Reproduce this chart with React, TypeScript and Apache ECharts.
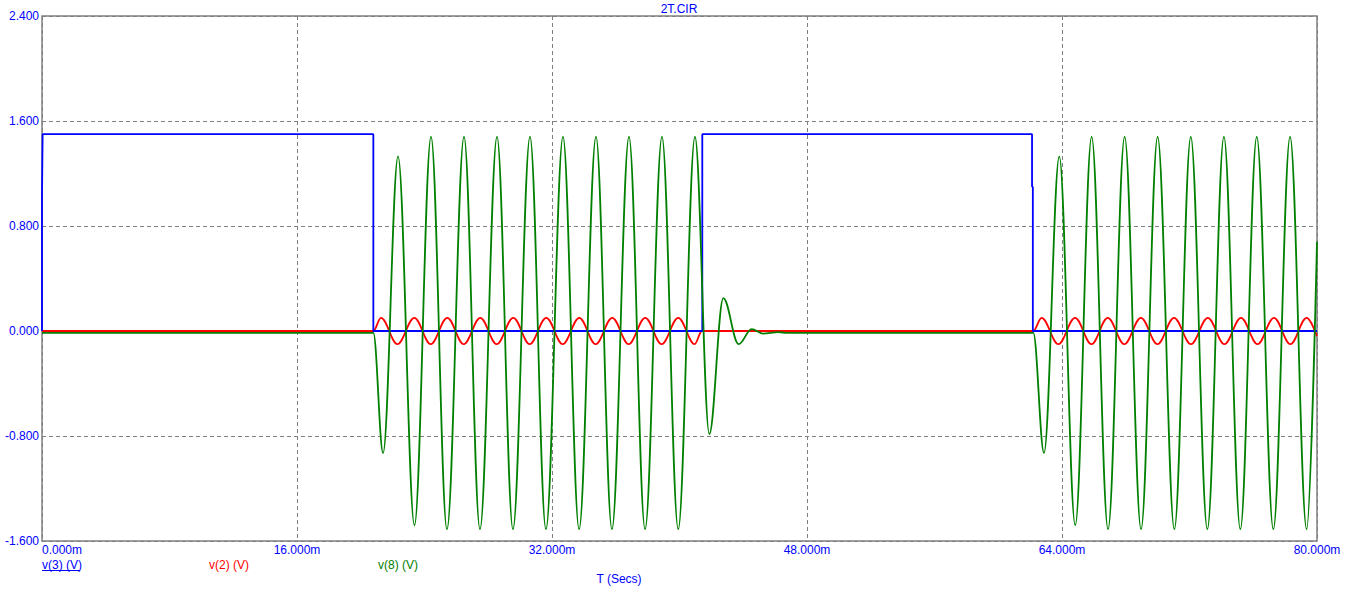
import React, { useEffect, useRef } from 'react';
import * as echarts from 'echarts';

const TITLE = '2T.CIR';
const X_AXIS_NAME = 'T (Secs)';
const SERIES_NAMES = ['v(3) (V)', 'v(2) (V)', 'v(8) (V)'];
const X_MIN = 0;
const X_MAX = 80;
const X_STEP = 16;
const Y_MIN = -1.6;
const Y_MAX = 2.4;
const Y_STEP = 0.8;

// v(3): square pulse (time in ms, value in V)
const v3Blue: [number, number][] = [
  [0, 0], [0, 1.05], [0.04, 1.5], [20.79, 1.5], [20.79, 0],
  [41.43, 0], [41.43, 1.5],
  [62.12, 1.5], [62.12, 1.1], [62.17, 1.1], [62.17, 0], [80, 0],
];

// v(2): driving tone, extrema
const v2Red: [number, number][] = [
  [0, 0], [20.79, 0],
  [21.27, 0.1], [22.30, -0.1], [23.36, 0.1], [24.39, -0.1], [25.43, 0.1], [26.46, -0.1],
  [27.50, 0.1], [28.53, -0.1], [29.57, 0.1], [30.60, -0.1], [31.64, 0.1], [32.67, -0.1],
  [33.71, 0.1], [34.74, -0.1], [35.78, 0.1], [36.81, -0.1], [37.85, 0.1], [38.88, -0.1],
  [39.92, 0.1], [40.95, -0.1], [41.41, 0],
  [62.2, 0],
  [62.72, 0.1], [63.77, -0.1], [64.82, 0.1], [65.85, -0.1], [66.87, 0.1], [67.91, -0.1],
  [68.95, 0.1], [69.99, -0.1], [71.03, 0.1], [72.09, -0.1], [73.15, 0.1], [74.19, -0.1],
  [75.23, 0.1], [76.27, -0.1], [77.30, 0.1], [78.33, -0.1], [79.35, 0.1], [80, -0.04],
];

// v(8): resonator output, extrema
const v8Green: [number, number][] = [
  [0, -0.015], [20.79, -0.015],
  [21.40, -0.93], [22.34, 1.33], [23.37, -1.48], [24.41, 1.48], [25.41, -1.51], [26.48, 1.48],
  [27.48, -1.51], [28.55, 1.48], [29.55, -1.51], [30.62, 1.48], [31.62, -1.51], [32.69, 1.48],
  [33.70, -1.51], [34.76, 1.48], [35.76, -1.51], [36.83, 1.48], [37.84, -1.51], [38.90, 1.48],
  [39.92, -1.51], [40.97, 1.48],
  [41.87, -0.785], [42.75, 0.25], [43.71, -0.10], [44.53, 0.015], [45.22, -0.02],
  [46.2, -0.008], [46.72, -0.015],
  [62.2, -0.015],
  [62.87, -0.93], [63.83, 1.33], [64.83, -1.48], [65.86, 1.48], [66.89, -1.51], [67.93, 1.48],
  [68.96, -1.51], [70.0, 1.48], [71.05, -1.51], [72.08, 1.48], [73.12, -1.51], [74.16, 1.48],
  [75.19, -1.51], [76.22, 1.48], [77.26, -1.51], [78.31, 1.48], [79.35, -1.51], [80, 0.68],
];

const FONT_FAMILY = '"Liberation Sans", Arial, sans-serif';
const FONT = '12px ' + FONT_FAMILY;
const BLUE = '#0000ff';
const RED = '#ff0000';
const GREEN = '#008000';
const GRAY = '#808080';

function txt(text: string, x: number, y: number, fill: string, align: string) {
  return {
    type: 'text',
    x,
    y,
    silent: true,
    style: {
      text,
      fill,
      font: FONT,
      align,
      verticalAlign: 'middle',
      textAlign: align,
      textVerticalAlign: 'middle',
    },
  };
}

export default function App() {
  const ref = useRef<HTMLDivElement>(null);
  useEffect(() => {
    const chart = echarts.init(ref.current!, null, { renderer: 'svg' });
    const splitStyle = { color: GRAY, width: 1, type: [4, 3] as any };
    chart.setOption({
      animation: false,
      backgroundColor: '#ffffff',
      grid: {
        left: 42, right: 32, top: 16, bottom: 52,
        show: true, borderColor: GRAY, borderWidth: 1.5, backgroundColor: 'transparent',
      },
      xAxis: {
        type: 'value',
        min: X_MIN, max: X_MAX, interval: X_STEP,
        axisLine: { show: false },
        axisTick: { show: false },
        splitLine: { show: true, lineStyle: splitStyle },
        axisLabel: {
          color: BLUE, fontFamily: FONT_FAMILY, fontSize: 12, margin: 3,
          alignMinLabel: 'left',
          formatter: (v: number) => (Math.abs(v) < 1e-9 ? 0 : v).toFixed(3) + 'm',
        },
      },
      yAxis: {
        type: 'value',
        min: Y_MIN, max: Y_MAX, interval: Y_STEP,
        axisLine: { show: false },
        axisTick: { show: false },
        splitLine: { show: true, lineStyle: splitStyle },
        axisLabel: {
          color: BLUE, fontFamily: FONT_FAMILY, fontSize: 12, margin: 3,
          formatter: (v: number) => (Math.abs(v) < 1e-9 ? 0 : v).toFixed(3),
        },
      },
      series: [
        {
          name: SERIES_NAMES[1], type: 'line', data: v2Red, showSymbol: false,
          smooth: 0.36, smoothMonotone: 'x',
          lineStyle: { color: RED, width: 1.8 }, itemStyle: { color: RED }, z: 2,
        },
        {
          name: SERIES_NAMES[0], type: 'line', data: v3Blue, showSymbol: false,
          lineStyle: { color: BLUE, width: 1.8 }, itemStyle: { color: BLUE }, z: 3,
        },
        {
          name: SERIES_NAMES[2], type: 'line', data: v8Green, showSymbol: false,
          smooth: 0.36, smoothMonotone: 'x',
          lineStyle: { color: GREEN, width: 1.8 }, itemStyle: { color: GREEN }, z: 4,
        },
      ],
      graphic: [
        txt(TITLE, 679, 9, BLUE, 'center'),
        txt(SERIES_NAMES[0], 42, 565, BLUE, 'left'),
        {
          type: 'line', silent: true,
          shape: { x1: 42, y1: 570.5, x2: 80, y2: 570.5 },
          style: { stroke: BLUE, lineWidth: 1 },
        },
        txt(SERIES_NAMES[1], 209, 565, RED, 'left'),
        txt(SERIES_NAMES[2], 378, 565, GREEN, 'left'),
        txt(X_AXIS_NAME, 619, 579, BLUE, 'center'),
      ],
    });
    return () => chart.dispose();
  }, []);
  return (
    <div
      ref={ref}
      style={{ position: 'fixed', left: 0, top: 0, width: 1349, height: 593, background: '#fff' }}
    />
  );
}
